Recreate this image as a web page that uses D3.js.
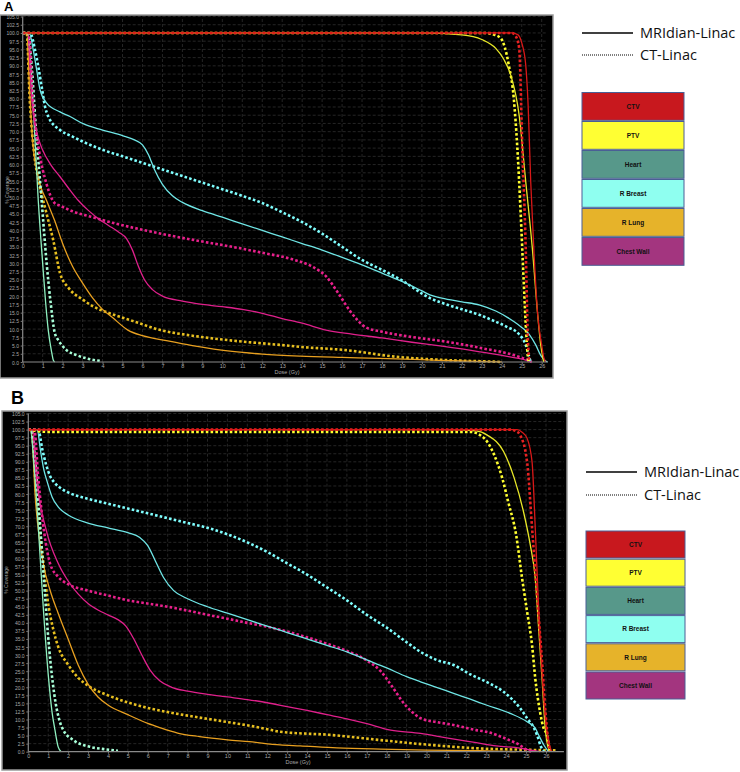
<!DOCTYPE html>
<html><head><meta charset="utf-8">
<script src="https://cdn.jsdelivr.net/npm/d3@7"></script>
<style>body{margin:0;background:#fff;} svg{display:block;}</style>
</head><body>
<svg id="c" width="740" height="772"></svg>
<script>
// ---------- DATA ----------
const structures = ["CTV","PTV","Heart","R Breast","R Lung","Chest Wall"];
const legendFill = ["#c8181e","#ffff33","#57988a","#8ffff0","#e6b32a","#a3357f"];
const methods = ["MRIdian-Linac","CT-Linac"];
const xTicks = d3.range(0, 27, 1);
const yTicks = d3.range(0, 105.01, 2.5);

// Panel A  [dose Gy, % coverage]
const A_CTV_MR = [[0,100],[24.5,100],[24.8,99.5],[25.0,97],[25.2,90.3],[25.32,78],[25.45,54.8],[25.6,35],[25.8,14.3],[26.0,5.2],[26.1,1.5],[26.2,0]];
const A_CTV_CT = [[0,100],[24.5,100],[24.7,99],[24.87,95.4],[25.03,65],[25.2,34.6],[25.3,8.2],[25.35,2],[25.4,0]];
const A_PTV_MR = [[0,100],[20,100],[22,99.4],[23,98],[23.7,95.3],[24.1,92],[24.45,87.2],[24.87,75],[25.2,54.8],[25.53,34.6],[25.8,14.3],[25.95,5.2],[26.1,0]];
const A_PTV_CT = [[0,100],[23.2,100],[23.6,99.5],[23.95,98.4],[24.35,90.3],[24.6,80.2],[24.78,65],[24.95,44.7],[25.1,24.3],[25.23,8.2],[25.3,2],[25.35,0]];
const A_Heart_MR = [[0,100],[0.25,100],[0.4,90],[0.55,75],[0.78,49],[1.0,30],[1.15,18],[1.28,9.7],[1.45,3],[1.53,0.6],[1.6,0]];
const A_Heart_CT = [[0,100],[0.25,100],[0.45,90],[0.65,72],[0.95,49],[1.2,30],[1.4,18],[1.6,9],[1.8,6.5],[1.95,5.2],[2.2,3.6],[2.7,2.1],[3.2,1.1],[3.9,0.3]];
const A_Breast_MR = [[0,100],[0.33,100],[0.53,94.8],[0.7,88.8],[0.87,82.7],[1.2,78.7],[1.87,76],[2.37,74.6],[3,72.5],[4,70.5],[5,68.8],[5.6,67.5],[6.0,66],[6.3,63],[6.6,58.5],[7,54],[7.5,50.5],[8,48.5],[9,46],[10,44],[11,42],[12,40],[13,38],[14,36],[15,34],[16,31.8],[17,29.5],[18,27],[19,24.5],[20,21.6],[20.4,20.4],[21,19.4],[22,18.3],[22.9,17.3],[23.7,15.5],[24.3,13.5],[24.6,12.3],[25,10.5],[25.4,8.2],[25.7,5.2],[25.95,2],[26.2,0.3],[26.3,0]];
const A_Breast_CT = [[0,100],[0.37,100],[0.62,94.8],[0.78,89.8],[0.95,83.7],[1.12,77.6],[1.28,74.6],[1.87,70.5],[2.5,68.5],[3,67],[4,64.5],[5,62.5],[6,60.5],[7,58.5],[8,56.5],[9,54.5],[10,52.5],[11,50.5],[12,48.3],[13,45.5],[14,42.5],[15,39],[16,35],[17,31],[18,28],[19,24.8],[20,20.8],[20.4,19.4],[21,18],[22,16],[22.9,14.3],[23.6,12.5],[24.25,10.7],[24.9,8.2],[25.2,5.2],[25.35,2],[25.45,0]];
const A_Lung_MR = [[0,100],[0.2,100],[0.35,82],[0.5,67],[0.87,54],[1.2,49],[1.6,43],[2.0,36],[2.5,29],[3,24],[3.5,19.5],[4,16],[4.5,13.5],[5.27,9.7],[6,8],[7.2,6.5],[8.5,5],[10.5,3.2],[12,2.4],[13.9,1.8],[16,1.4],[17.9,1.1],[20,0.7],[22,0.3],[23.5,0.1],[24,0]];
const A_Lung_CT = [[0,100],[0.2,100],[0.35,80],[0.6,62],[0.8,55],[1.2,45],[1.53,37],[1.87,27],[2.3,22.5],[3,19],[3.5,17],[4.5,14.5],[5.5,12.5],[6.9,9.7],[8.5,8],[10.5,6.5],[12.9,5.2],[13.9,4.6],[16.2,3.6],[18.7,1.6],[21.2,0.6],[23.6,0.1],[24,0]];
const A_Chest_MR = [[0,100],[0.25,100],[0.45,80],[0.7,70],[1.0,64.4],[1.4,60],[1.87,56.3],[2.4,52],[2.8,49],[3.3,46],[3.8,43.5],[4.3,41.5],[4.8,39.5],[5.2,37.5],[5.5,34],[5.8,29],[6.1,25],[6.5,22],[7,20],[8,18.5],[9,17.5],[10,16.8],[11,16],[12,14.8],[13,13.2],[14,11.8],[15.2,9.7],[16.5,8.5],[18,7.3],[19.5,6],[21,4.8],[22.9,3.1],[24,2],[25.2,0.6],[25.5,0]];
const A_Chest_CT = [[0,100],[0.3,100],[0.5,80],[0.8,65],[1.2,54],[1.6,48.3],[1.87,47.5],[2.5,45.8],[3.5,44],[4.5,42.3],[6,40.2],[7.5,38.3],[9,36.6],[10.5,35],[12,33.2],[13.5,31.2],[14.5,29],[15.2,26],[15.8,21],[16.4,15.5],[17.2,10.5],[18,9.2],[19.5,7.6],[21.2,6.2],[23,4.2],[24.6,2.1],[25.3,0.6],[25.5,0]];

// Panel B
const B_CTV_MR = [[0,100],[24.55,100],[24.8,99.2],[25.05,97.3],[25.3,90],[25.46,69.5],[25.6,48.7],[25.88,17.6],[26.05,6.2],[26.2,1.5],[26.3,0]];
const B_CTV_CT = [[0,100],[24.2,100],[24.5,99.5],[24.7,98.3],[25.05,90],[25.3,69.5],[25.55,48.7],[25.8,28],[25.97,12.4],[26.1,4],[26.2,0]];
const B_PTV_MR = [[0,100],[21,100],[22.5,99.6],[23.05,98.3],[23.87,93.2],[24.4,85],[24.87,74.5],[25.21,64.2],[25.46,53.8],[25.63,38.3],[25.8,22.8],[25.96,7.3],[26.1,1.5],[26.2,0]];
const B_PTV_CT = [[0,100],[1,99.3],[22.2,99.3],[22.9,97.3],[23.4,92.1],[23.8,85],[24.1,77.6],[24.5,67.3],[24.8,53.8],[25.05,43.5],[25.3,33.1],[25.46,22.8],[25.7,12.4],[25.88,7.3],[26.05,5.2],[26.15,1.5],[26.2,0]];
const B_Heart_MR = [[0,100],[0.1,100],[0.3,88],[0.5,70],[0.75,45],[1.0,24],[1.2,12],[1.34,6.7],[1.5,1.5],[1.65,0]];
const B_Heart_CT = [[0,100],[0.15,100],[0.35,90],[0.55,74],[0.8,52],[1.05,32],[1.3,18],[1.55,10],[1.76,6.7],[2.26,3.6],[3.1,1.5],[3.8,0.8],[4.5,0.3]];
const B_Breast_MR = [[0,100],[0.45,100],[0.6,94],[0.8,87],[0.92,84.4],[1.2,79],[1.5,76],[2,73.5],[3,71],[4,69.5],[5,68],[5.6,66.5],[6.0,64],[6.4,59],[6.8,54],[7.3,50],[8,47.5],[9,45],[10,43],[11,41],[12,39],[13,37],[14,35],[15,33],[16,31],[17,28.5],[18,26],[19,23.3],[19.7,21.7],[20.5,20],[21.36,18.1],[22.2,16.3],[23,14.5],[24.2,11.9],[25.05,9.3],[25.46,7.3],[25.63,5.2],[25.9,2],[26.1,0.3],[26.2,0]];
const B_Breast_CT = [[0,100],[0.5,100],[0.7,94],[0.9,89],[1.1,85.5],[1.34,83.4],[1.7,81.5],[2,80.5],[3,78.5],[4,77],[5,75.5],[6,74],[7,72.5],[8,71],[9,69.5],[10,67.5],[11,65],[12,62],[13,58.5],[14,55],[15,51],[16,47],[17,42.5],[18,38.5],[19,34],[19.7,31],[20.5,28.5],[21.36,26.9],[22.2,24],[23,21.7],[23.87,18.6],[24.7,13.5],[25.05,10.4],[25.4,7.3],[25.55,5.2],[25.75,1.5],[25.9,0]];
const B_Lung_MR = [[0,100],[0.15,100],[0.35,79],[0.75,58.5],[1.09,50.2],[1.5,43],[2,35],[2.5,27],[3,21],[3.5,17],[4,14.5],[5,11.5],[6,8.8],[6.6,7.5],[7.5,5.8],[8.6,4.7],[10,3.7],[11.1,3.1],[12.65,2.1],[13.65,1.8],[15.5,1.2],[17.7,0.8],[20,0.5],[22.7,0.3],[24,0.1],[24.5,0]];
const B_Lung_CT = [[0,100],[0.15,100],[0.4,80],[0.7,62],[0.95,48],[1.26,37.8],[1.5,32.6],[2,27],[2.5,23],[3,20.5],[4,17.5],[5,15.3],[6,13.6],[7,12.3],[8,11.2],[9,10.2],[10,9.2],[11,8.2],[12,7],[12.65,6.2],[15.2,5.2],[17.7,3.6],[20.2,2.1],[22.7,1.0],[25,0.6],[26.5,0.4]];
const B_Chest_MR = [[0,100],[0.2,100],[0.42,84.4],[0.9,68.8],[1.5,58.5],[2,53],[2.5,49],[3,46],[3.5,44],[4,42.5],[4.5,41],[4.9,39],[5.3,35],[5.7,30],[6.1,25.5],[6.6,22],[7.2,20],[8,18.8],[9,17.8],[10,17],[11,16.2],[12,15.2],[13,14],[14,12.8],[15,11.5],[16,10.2],[17,8.7],[18.2,6.7],[19.7,5.7],[21,4.3],[22.5,2.8],[23.5,1.8],[24.7,1.1],[25.3,0.4],[25.7,0]];
const B_Chest_CT = [[0,100],[0.3,100],[0.5,85],[0.8,68],[1.09,58.5],[1.5,54.3],[2,52],[3,50],[4,48.5],[5,47],[6,46],[7,45],[8,43.8],[9,42.5],[10,41.3],[11,40],[12,38.8],[13,37.3],[14,35.5],[15,33.5],[16,31.3],[17,28.3],[17.7,25],[18.3,20],[18.8,15.5],[19.3,12.2],[19.7,10.4],[20.5,9.2],[21.36,8.3],[22.5,6.7],[23,6.2],[24,4],[24.7,2],[25.05,0.5],[25.3,0]];

// ---------- STYLE ----------
const lineColor = {
  "CTV":["#d81818","#e82222"], "PTV":["#e8e828","#ffff30"], "Heart":["#8ff0c0","#a8ffd8"],
  "R Breast":["#6fe6e6","#80ffff"], "R Lung":["#e8a020","#e8c020"], "Chest Wall":["#e0208c","#e8208c"]
};
const panelA = {
  series:[["CTV",A_CTV_MR,A_CTV_CT],["PTV",A_PTV_MR,A_PTV_CT],["Heart",A_Heart_MR,A_Heart_CT],
          ["R Breast",A_Breast_MR,A_Breast_CT],["R Lung",A_Lung_MR,A_Lung_CT],["Chest Wall",A_Chest_MR,A_Chest_CT]],
  frame:[0,15,553,363], x0:22.7, x26:541.7, xEnd:26.3, y0:362, y105:16.5, label:"A", labelPos:[4,11], labelSize:13,
  xlabY:367, titleX:287, titleY:374, ylabX:8.5, ylabY:190, legX:582, legLineY:[33,55], legBoxY:92.5, legBoxW:102, legBoxStep:29
};
const panelB = {
  series:[["CTV",B_CTV_MR,B_CTV_CT],["PTV",B_PTV_MR,B_PTV_CT],["Heart",B_Heart_MR,B_Heart_CT],
          ["R Breast",B_Breast_MR,B_Breast_CT],["R Lung",B_Lung_MR,B_Lung_CT],["Chest Wall",B_Chest_MR,B_Chest_CT]],
  frame:[2,411,565,359], x0:28.3, x26:546, xEnd:26.9, y0:751.7, y105:413.5, label:"B", labelPos:[11,404], labelSize:18,
  xlabY:757, titleX:298, titleY:763.5, ylabX:8, ylabY:580, legX:586, legLineY:[472,495], legBoxY:531, legBoxW:99, legBoxStep:28.2
};

const svg = d3.select("#c");

function drawPanel(p){
  const g = svg.append("g");
  const [fx,fy,fw,fh] = p.frame;
  g.append("rect").attr("x",fx).attr("y",fy).attr("width",fw).attr("height",fh).attr("fill","#000")
    .attr("stroke","#9a9a9a").attr("stroke-width",1.5);
  const x = d3.scaleLinear().domain([0,26]).range([p.x0,p.x26]);
  const y = d3.scaleLinear().domain([0,105]).range([p.y0,p.y105]);
  const xr = x(p.xEnd);
  // grid
  g.append("g").selectAll("line").data(yTicks.filter(d=>d>0)).join("line")
    .attr("x1",p.x0).attr("x2",xr).attr("y1",d=>y(d)).attr("y2",d=>y(d))
    .attr("stroke","#2e2e2e").attr("stroke-width",0.8).attr("stroke-dasharray","3,2");
  g.append("g").selectAll("line").data(xTicks.filter(d=>d>0)).join("line")
    .attr("x1",d=>x(d)).attr("x2",d=>x(d)).attr("y1",p.y0).attr("y2",y(105))
    .attr("stroke","#2e2e2e").attr("stroke-width",0.8).attr("stroke-dasharray","3,2");
  // curves
  const line = d3.line().x(d=>x(d[0])).y(d=>y(d[1])).curve(d3.curveMonotoneX);
  const order = ["R Lung","Heart","Chest Wall","R Breast","PTV","CTV"];
  order.forEach(name=>{
    const s = p.series.find(q=>q[0]===name);
    g.append("path").attr("d",line(s[2])).attr("fill","none").attr("stroke",lineColor[name][1])
      .attr("stroke-width",2.6).attr("stroke-dasharray","2.6,2.2");
    g.append("path").attr("d",line(s[1])).attr("fill","none").attr("stroke",lineColor[name][0])
      .attr("stroke-width",1.3);
  });
  // axes
  const xa = d3.axisBottom(x).tickValues(xTicks).tickSize(2).tickFormat(d3.format("d"));
  const ax = g.append("g").attr("transform",`translate(0,${p.y0})`).call(xa);
  ax.select(".domain").attr("d",`M${p.x0},0H${xr}`).attr("stroke","#8a8a8a").attr("stroke-width",1.2);
  ax.selectAll(".tick line").attr("stroke","#777");
  ax.selectAll("text").attr("fill","#a8a8a8").attr("font-size","5.5px").attr("font-family","Liberation Sans, Arial").attr("dy","0.9em").attr("y",1);
  const ya = d3.axisLeft(y).tickValues(yTicks).tickSize(2).tickFormat(d3.format(".1f"));
  const ay = g.append("g").attr("transform",`translate(${p.x0},0)`).call(ya);
  ay.select(".domain").attr("d",`M0,${p.y0}V${y(105)}`).attr("stroke","#8a8a8a").attr("stroke-width",1.2);
  ay.selectAll(".tick line").attr("stroke","#777");
  ay.selectAll("text").attr("fill","#a8a8a8").attr("font-size","5px").attr("font-family","Liberation Sans, Arial")
    .attr("x",-3.7).attr("dy","0.4em");
  g.append("text").attr("x",p.titleX).attr("y",p.titleY).attr("text-anchor","middle")
    .attr("fill","#a8a8a8").attr("font-size","5.5px").attr("font-family","Liberation Sans, Arial").text("Dose (Gy)");
  g.append("text").attr("transform",`translate(${p.ylabX},${p.ylabY}) rotate(-90)`).attr("text-anchor","middle")
    .attr("fill","#a8a8a8").attr("font-size","5px").attr("font-family","Liberation Sans, Arial").text("% Coverage");
  // panel label
  svg.append("text").attr("x",p.labelPos[0]).attr("y",p.labelPos[1]).attr("font-size",p.labelSize+"px")
    .attr("font-weight","bold").attr("font-family","Liberation Sans, Arial").attr("fill","#000").text(p.label);
  // legend: line styles
  methods.forEach((m,i)=>{
    const ly = p.legLineY[i];
    svg.append("line").attr("x1",p.legX).attr("x2",p.legX+51).attr("y1",ly).attr("y2",ly)
      .attr("stroke","#000").attr("stroke-width",i===0?1.6:1.2).attr("stroke-dasharray",i===0?null:"1,1");
    svg.append("text").attr("x",p.legX+58).attr("y",ly+5).attr("font-size","14.5px")
      .attr("font-family","Open Sans, Liberation Sans").attr("fill","#111").text(m);
  });
  // legend: structure boxes
  structures.forEach((s,i)=>{
    const by = p.legBoxY + i*p.legBoxStep;
    svg.append("rect").attr("x",p.legX).attr("y",by).attr("width",p.legBoxW).attr("height",p.legBoxStep-1.2)
      .attr("fill",legendFill[i]).attr("stroke","#4a5f95").attr("stroke-width",1);
    svg.append("text").attr("x",p.legX+p.legBoxW/2).attr("y",by+(p.legBoxStep-1.2)/2+2.3)
      .attr("text-anchor","middle").attr("font-size","6.5px").attr("font-weight","bold")
      .attr("font-family","Liberation Sans, Arial").attr("fill","#111").text(s);
  });
}
drawPanel(panelA);
drawPanel(panelB);
</script>
</body></html>
